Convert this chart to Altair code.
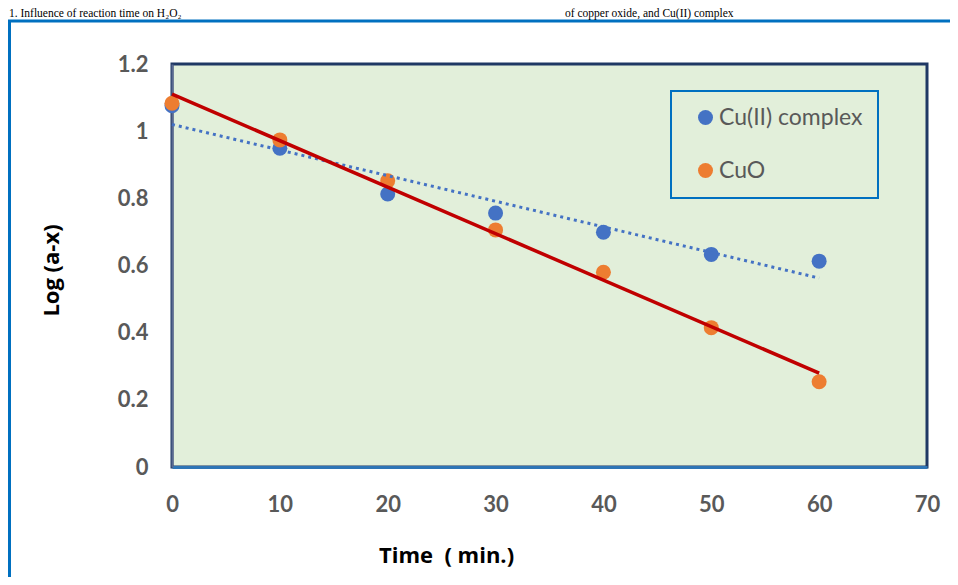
import altair as alt
import pandas as pd

# ---- data ----
time_min = [0, 10, 20, 30, 40, 50, 60]
cu_complex = [1.076, 0.949, 0.813, 0.756, 0.699, 0.633, 0.613]
cuo = [1.083, 0.974, 0.852, 0.706, 0.580, 0.415, 0.254]
series_names = ["Cu(II) complex", "CuO"]
series_colors = ["#4472C4", "#ED7D31"]
trend_colors = ["#4472C4", "#C00000"]
x_ticks = [0, 10, 20, 30, 40, 50, 60, 70]
y_ticks = [0, 0.2, 0.4, 0.6, 0.8, 1.0, 1.2]
x_title = "Time\u00a0 ( min.)"
y_title = "Log (a-x)"
caption_left = "1. Influence of reaction time on H\u2082O\u2082"
caption_right = "of copper oxide, and Cu(II) complex"

df = pd.DataFrame({
    "time": time_min * 2,
    "value": cu_complex + cuo,
    "series": [n for n in series_names for _ in time_min],
})

W, H = 755, 403
PAD_L, PAD_T, PAD_R, PAD_B = 164, 56, 23, 110

x_enc = alt.X("time:Q", scale=alt.Scale(domain=[0, 70], nice=False),
              axis=alt.Axis(values=x_ticks, title=x_title))
y_enc = alt.Y("value:Q", scale=alt.Scale(domain=[0, 1.2], nice=False),
              axis=alt.Axis(values=y_ticks, format="~g", title=y_title))

points = alt.Chart(df).mark_circle(size=225, opacity=1).encode(
    x=x_enc, y=y_enc,
    color=alt.Color("series:N",
                    scale=alt.Scale(domain=series_names, range=series_colors),
                    legend=alt.Legend(title=None, orient="none", legendX=499, legendY=27,
                                      strokeColor="#0070C0", padding=15, rowPadding=29,
                                      labelFont="Lato", labelFontSize=23, labelColor="#595959",
                                      symbolSize=225, symbolType="circle", symbolOffset=8,
                                      labelOffset=2, symbolStrokeWidth=0)),
)

blue_line = alt.Chart(df).transform_filter(
    alt.datum.series == series_names[0]
).transform_regression("time", "value", extent=[0, 60]).mark_line(
    color=trend_colors[0], strokeWidth=3, strokeDash=[3, 4]
).encode(x="time:Q", y="value:Q")

red_line = alt.Chart(df).transform_filter(
    alt.datum.series == series_names[1]
).transform_regression("time", "value", extent=[0, 60]).mark_line(
    color=trend_colors[1], strokeWidth=3.5
).encode(x="time:Q", y="value:Q")

one = pd.DataFrame({"k": [0]})
frame = alt.Chart(one).mark_rect(fillOpacity=0, stroke="#0070C0", strokeWidth=3).encode(
    x=alt.value(-PAD_L + 1.5), x2=alt.value(W + PAD_R + 10),
    y=alt.value(-PAD_T + 13), y2=alt.value(H + PAD_B + 10),
)
cap_l = alt.Chart(one).mark_text(font="Liberation Serif", fontSize=11.5, align="left",
                                 baseline="alphabetic", color="#000000").encode(
    x=alt.value(-PAD_L + 1), y=alt.value(-PAD_T + 9), text=alt.value(caption_left))
cap_r = alt.Chart(one).mark_text(font="Liberation Serif", fontSize=11.5, align="left",
                                 baseline="alphabetic", color="#000000").encode(
    x=alt.value(393), y=alt.value(-PAD_T + 9), text=alt.value(caption_right))

chart = alt.layer(frame, cap_l, cap_r, points, blue_line, red_line).properties(
    width=W, height=H,
    autosize=alt.AutoSizeParams(type="none"),
    padding={"left": PAD_L, "top": PAD_T, "right": PAD_R, "bottom": PAD_B},
).configure_view(
    fill="#E2EFDA", stroke="#1F3864", strokeWidth=3
).configure_axis(
    grid=False, ticks=False, labelFlush=False,
    labelFont="Lato", labelFontWeight="bold", labelFontSize=22, labelColor="#595959",
    titleFont="Open Sans", titleFontWeight="bold", titleFontSize=22, titleColor="#000000",
).configure_axisX(
    domainColor="#2E75B6", domainWidth=3, labelPadding=27,
    titleX=274, titleY=88, titleBaseline="middle",
).configure_axisY(
    domainColor="#5B6A92", domainWidth=2, labelPadding=24,
    titleX=-121, titleY=206, titleBaseline="middle",
).configure_legend(strokeWidth=2)

chart.save("out.html", embed_options={"renderer": "svg", "actions": False})
